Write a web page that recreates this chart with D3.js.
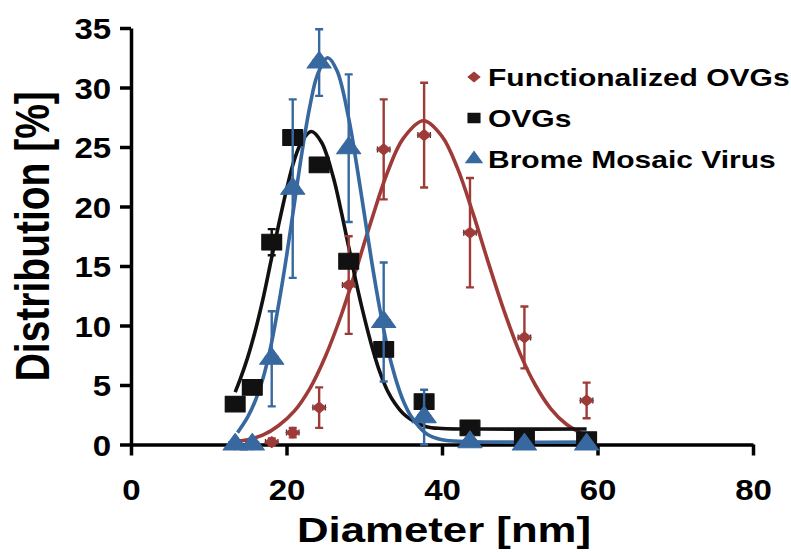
<!DOCTYPE html>
<html>
<head>
<meta charset="utf-8">
<script src="https://cdn.jsdelivr.net/npm/d3@7"></script>
<style>
  body { margin: 0; background: #fff; }
  text { font-family: "Liberation Sans", Arial, sans-serif; font-weight: bold; }
</style>
</head>
<body>
<div id="chart"></div>
<script>
// measured diameters (same bins for every sample)
var diameters = [13.4, 15.6, 18.1, 20.8, 24.2, 28.0, 32.5, 37.7, 43.6, 50.6, 58.6];

var funcValues = [0, 0, 0.2, 1.0, 3.1, 13.4, 24.8, 26.0, 17.8, 9.0, 3.7];
var funcErrors = [0, 0, 0.3, 0.4, 1.7, 4.1, 4.2, 4.4, 4.6, 2.6, 1.5];

var ovgValues = [3.4, 4.8, 17.0, 25.8, 23.5, 15.4, 8.0, 3.6, 1.4, 0.5, 0.4];
var ovgErrors = [0.3, 0.3, 1.1, 0.5, 0.4, 0.4, 0.5, 0.4, 0.2, 0.2, 0.2];

var bmvValues = [0, 0, 7.2, 21.5, 32.1, 24.9, 10.3, 2.3, 0.2, 0, 0];
var bmvErrors = [0, 0, 4.0, 7.5, 2.8, 6.2, 5.0, 2.3, 0.1, 0, 0];

var xError = 0.8;

// fitted curves
var funcFitX = [13.7, 15, 17, 19, 21, 23, 25, 27, 29, 31, 33, 35, 37.6, 40, 42, 44, 46, 48, 50, 52, 54, 56, 58.6];
var funcFitY = [0.3, 0.4, 0.8, 1.6, 2.8, 4.7, 7.4, 10.8, 14.8, 19.0, 22.9, 25.7, 27.2, 25.9, 23.2, 19.4, 15.2, 11.2, 7.7, 5.0, 3.0, 1.7, 0.7];

var ovgFitX = [13.4, 14, 15, 16, 17, 18, 19, 20, 21, 22, 23.2, 24.5, 26, 27, 28, 29, 30, 31, 32, 33, 34, 35, 36, 38, 40, 45, 58.6];
var ovgFitY = [4.4, 5.4, 7.3, 9.6, 12.3, 15.4, 18.5, 21.4, 23.9, 25.5, 26.3, 25.4, 22.5, 19.7, 16.6, 13.5, 10.7, 8.2, 6.1, 4.5, 3.4, 2.6, 2.1, 1.5, 1.35, 1.3, 1.3];

var bmvFitX = [13.7, 15, 16, 17, 18, 19, 20, 21, 22, 23, 24, 25.3, 26.5, 28, 29, 30, 31, 32, 33, 34, 35, 36, 38, 40, 43, 48, 58.6];
var bmvFitY = [1.0, 2.3, 3.7, 5.6, 8.3, 11.8, 15.8, 20.2, 24.6, 28.4, 31.1, 32.5, 31.4, 27.4, 23.6, 19.4, 15.2, 11.4, 8.1, 5.6, 3.7, 2.4, 0.9, 0.4, 0.25, 0.2, 0.2];

var xTicks = [0, 20, 40, 60, 80];
var yTicks = [0, 5, 10, 15, 20, 25, 30, 35];

var legendLabels = ["Functionalized OVGs", "OVGs", "Brome Mosaic Virus"];

var red = "#9E3B38", blue = "#3868A0", black = "#111111";
var stretch = 1.25; // glyphs in the figure are wider than tall
var tickStretch = 1.1;

var width = 791, height = 552;
var x = d3.scaleLinear().domain([0, 80]).range([131, 753]);
var y = d3.scaleLinear().domain([0, 35]).range([444.5, 28]);

var svg = d3.select("#chart").append("svg")
    .attr("width", width)
    .attr("height", height);

// axes
var xAxis = svg.append("g")
    .attr("transform", "translate(0," + y(0) + ")")
    .call(d3.axisBottom(x).tickValues(xTicks).tickSize(11).tickPadding(23).tickSizeOuter(0));
var yAxis = svg.append("g")
    .attr("transform", "translate(" + x(0) + ",0)")
    .call(d3.axisLeft(y).tickValues(yTicks).tickSize(11).tickPadding(7).tickSizeOuter(0));

[xAxis, yAxis].forEach(function(a) {
    a.select(".domain").attr("stroke", "#000").attr("stroke-width", 3.5);
    a.selectAll(".tick line").attr("stroke", "#000").attr("stroke-width", 3.5);
    a.selectAll(".tick text")
        .attr("fill", "#000")
        .style("font-size", "30px")
        .attr("transform", "scale(" + tickStretch + ",1)");
});
xAxis.selectAll(".tick text").attr("dy", "0.71em");
yAxis.selectAll(".tick text").attr("dy", "0.36em");

// axis titles
svg.append("text")
    .attr("transform", "translate(" + (x(40) + 2) + ",542) scale(" + stretch + ",1)")
    .attr("text-anchor", "middle")
    .style("font-size", "35px")
    .text("Diameter [nm]");
svg.append("text")
    .attr("transform", "translate(49," + y(17.5) + ") scale(" + stretch + ",1) rotate(-90)")
    .attr("text-anchor", "middle")
    .style("font-size", "39px")
    .text("Distribution [%]");

var line = d3.line()
    .x(function(d) { return x(d[0]); })
    .y(function(d) { return y(d[1]); })
    .curve(d3.curveCatmullRom);

function drawFit(xs, ys, color) {
    svg.append("path")
        .datum(d3.zip(xs, ys))
        .attr("d", line)
        .attr("fill", "none")
        .attr("stroke", color)
        .attr("stroke-width", 3.6);
}

function drawErrors(values, errors, color) {
    var g = svg.append("g");
    var data = d3.zip(diameters, values, errors);
    // vertical bars
    g.selectAll(".ev")
        .data(data.filter(function(d) { return d[2] > 0.25; }))
        .enter().append("path")
        .attr("d", function(d) {
            var cx = x(d[0]), t = y(d[1] + d[2]), b = y(d[1] - d[2]);
            return "M" + cx + "," + t + "V" + b +
                "M" + (cx - 4) + "," + t + "H" + (cx + 4) +
                "M" + (cx - 4) + "," + b + "H" + (cx + 4);
        })
        .attr("stroke", color)
        .attr("stroke-width", 2.4)
        .attr("fill", "none");
    // horizontal bars
    g.selectAll(".eh")
        .data(data)
        .enter().append("path")
        .attr("d", function(d) {
            var cy = y(d[1]), l = x(d[0] - xError), r = x(d[0] + xError);
            return "M" + l + "," + cy + "H" + r +
                "M" + l + "," + (cy - 3) + "V" + (cy + 3) +
                "M" + r + "," + (cy - 3) + "V" + (cy + 3);
        })
        .attr("stroke", "#333")
        .attr("stroke-width", 1.3)
        .attr("fill", "none");
}

var symDiamond = d3.symbol().type(d3.symbolDiamond2).size(75);
var symSquare = d3.symbol().type(d3.symbolSquare).size(250);
var symTriangle = d3.symbol().type(d3.symbolTriangle).size(160);

function drawMarkers(values, sym, color) {
    svg.append("g").selectAll("path")
        .data(d3.zip(diameters, values))
        .enter().append("path")
        .attr("d", sym)
        .attr("transform", function(d) {
            return "translate(" + x(d[0]) + "," + y(d[1]) + ") scale(" + stretch + ",1)";
        })
        .attr("fill", color)
        .attr("stroke", color)
        .attr("stroke-width", 1)
        .attr("stroke-linejoin", "round");
}

drawFit(funcFitX, funcFitY, red);
drawFit(ovgFitX, ovgFitY, black);
drawFit(bmvFitX, bmvFitY, blue);

drawErrors(funcValues, funcErrors, red);
drawMarkers(funcValues, symDiamond, red);
drawErrors(ovgValues, ovgErrors, black);
drawMarkers(ovgValues, symSquare, black);
drawErrors(bmvValues, bmvErrors, blue);
drawMarkers(bmvValues, symTriangle, blue);

// legend
var legendSyms = [symDiamond, d3.symbol().type(d3.symbolSquare).size(110), d3.symbol().type(d3.symbolTriangle).size(95)];
var legendColors = [red, black, blue];
var legend = svg.append("g").selectAll("g")
    .data(legendLabels)
    .enter().append("g")
    .attr("transform", function(d, i) { return "translate(474," + (77 + i * 41) + ")"; });
legend.append("path")
    .attr("d", function(d, i) { return legendSyms[i](); })
    .attr("transform", "scale(" + stretch + ",1)")
    .attr("fill", function(d, i) { return legendColors[i]; });
legend.append("text")
    .attr("transform", "translate(14,8.5) scale(" + stretch + ",1)")
    .style("font-size", "24px")
    .text(function(d) { return d; });
</script>
</body>
</html>
